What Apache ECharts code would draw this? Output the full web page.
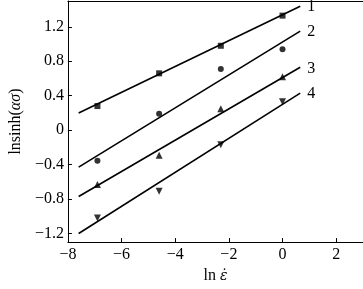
<!DOCTYPE html>
<html><head><meta charset="utf-8">
<script src="https://cdn.jsdelivr.net/npm/echarts@6/dist/echarts.min.js"></script>
<style>html,body{margin:0;padding:0;background:#fff}#c{width:363px;height:289px}</style>
</head><body><div id="c"></div>
<script>
// strain rates ln(eps_dot)
var lnRate = [-6.9, -4.6, -2.3, 0];
var s1 = [0.28, 0.66, 0.98, 1.33];   // squares
var s2 = [-0.355, 0.19, 0.71, 0.94]; // circles
var s3 = [-0.63, -0.29, 0.25, 0.62]; // up triangles
var s4 = [-1.02, -0.71, -0.17, 0.33];// down triangles
// fitted lines: x start/end and y start/end
var fitX = [-7.6, 0.66];
var fit1 = [0.20, 1.44];
var fit2 = [-0.43, 1.15];
var fit3 = [-0.77, 0.73];
var fit4 = [-1.20, 0.43];
var lineNames = ['1', '2', '3', '4'];
var xTicks = [-8, -6, -4, -2, 0, 2];
var yTicks = [-1.2, -0.8, -0.4, 0, 0.4, 0.8, 1.2];

var font = 'Liberation Serif';
function pts(xs, ys) { return xs.map(function (x, i) { return [x, ys[i]]; }); }
function fmt(v) { return String(Math.round(v * 10) / 10).replace('-', '\u2212'); }

var fits = [fit1, fit2, fit3, fit4];
var pointsArr = [s1, s2, s3, s4];
var symbols = ['rect', 'circle', 'triangle', 'triangle'];
var rotates = [0, 0, 0, 180];
var sizes = [6, 6, 7, 7];

var series = [];
fits.forEach(function (f, i) {
  series.push({
    type: 'line', data: pts(fitX, f), showSymbol: false, silent: true,
    lineStyle: { color: '#000', width: 1.6 },
    endLabel: { show: true, formatter: lineNames[i], color: '#000', fontFamily: font, fontSize: 16, distance: 7, offset: [0, 1] }
  });
});
pointsArr.forEach(function (p, i) {
  series.push({
    type: 'scatter', data: pts(lnRate, p), symbol: symbols[i], symbolRotate: rotates[i],
    symbolSize: sizes[i], itemStyle: { color: '#000' }
  });
});

var chart = echarts.init(document.getElementById('c'));
chart.setOption({
  animation: false,
  grid: { left: 53, top: 1, width: 312, bottom: 38 },
  xAxis: [{
    type: 'value', min: -8, max: 3,
    name: '{n|ln }{i|\u03b5\u0307}', nameLocation: 'middle', nameGap: 22,
    nameTextStyle: { rich: {
      n: { fontFamily: font, fontSize: 16, color: '#000' },
      i: { fontFamily: 'DejaVu Serif', fontSize: 14, color: '#000', fontStyle: 'italic' }
    } },
    axisLine: { show: true, onZero: false, lineStyle: { color: '#000', width: 1 } },
    axisTick: { show: true, inside: true, length: 4, customValues: xTicks, lineStyle: { color: '#000' } },
    axisLabel: { customValues: xTicks, formatter: fmt, fontFamily: font, fontSize: 16, color: '#000', margin: 5 },
    splitLine: { show: false }
  }, {
    type: 'value', min: -8, max: 3, position: 'top',
    axisLine: { show: true, onZero: false, lineStyle: { color: '#000', width: 1 } },
    axisTick: { show: false }, axisLabel: { show: false }, splitLine: { show: false }
  }],
  yAxis: {
    type: 'value', min: -1.3, max: 1.5,
    name: '{n|lnsinh(}{i|\u03b1\u03c3}{n|)}', nameLocation: 'middle', nameGap: 34, nameRotate: 90,
    nameTextStyle: { rich: {
      n: { fontFamily: font, fontSize: 16, color: '#000' },
      i: { fontFamily: font, fontSize: 16, color: '#000', fontStyle: 'italic' }
    } },
    axisLine: { show: true, onZero: false, lineStyle: { color: '#000', width: 1 } },
    axisTick: { show: true, inside: true, length: 4, customValues: yTicks, lineStyle: { color: '#000' } },
    axisLabel: { customValues: yTicks, formatter: fmt, fontFamily: font, fontSize: 16, color: '#000', margin: 4 },
    splitLine: { show: false }
  },
  series: series
});
</script></body></html>
